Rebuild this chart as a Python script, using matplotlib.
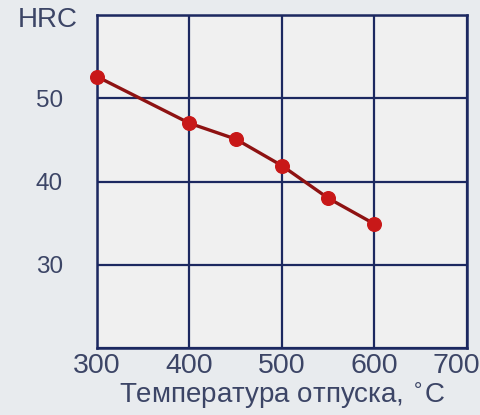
import matplotlib
matplotlib.use('Agg')
import matplotlib.pyplot as plt
import matplotlib.transforms as mtransforms

# tempering temperature vs hardness
temps = [300, 400, 450, 500, 550, 600]
hrc = [52.6, 47.0, 45.1, 41.9, 38.0, 34.9]

x_ticks = [300, 400, 500, 600, 700]
y_ticks = [20, 30, 40, 50, 60]
y_labels = ['', '30', '40', '50', '']

plt.rcParams['font.family'] = ['Liberation Sans', 'DejaVu Sans']

grid_col = '#1c2860'
text_col = '#3c4566'

fig = plt.figure(figsize=(4.81, 4.15), dpi=100)
fig.patch.set_facecolor('#e8ebee')
ax = fig.add_axes([0.2017, 0.1614, 0.769, 0.8024])
ax.set_facecolor('#f0f0f0')

ax.set_xlim(300, 700)
ax.set_ylim(20, 60)
ax.set_xticks(x_ticks)
ax.set_yticks(y_ticks)
ax.set_yticklabels(y_labels)
ax.grid(True, color=grid_col, linewidth=1.6)
ax.set_axisbelow(True)
for s in ax.spines.values():
    s.set_color(grid_col)
    s.set_linewidth(1.8)
ax.tick_params(length=0, colors=text_col)
ax.tick_params(axis='y', pad=24.5, labelsize=17.5)
ax.tick_params(axis='x', pad=3.5, labelsize=20.5)

# keep the last label inside the figure
lbl = ax.get_xticklabels()[-1]
lbl.set_transform(lbl.get_transform() + mtransforms.ScaledTranslation(-11 / 100, 0, fig.dpi_scale_trans))

ax.plot(temps, hrc, color='#8e1212', linewidth=2.4, zorder=3, clip_on=False)
ax.plot(temps, hrc, 'o', color='#c81818', markersize=9.8, zorder=4, clip_on=False)

ax.set_xlabel('Температура отпуска, $^{\\circ}$C', fontsize=20, color=text_col, labelpad=1)
fig.text(48 / 481, 1 - 20 / 415, 'HRC', fontsize=20, color=text_col, ha='center', va='center')

fig.savefig('out.png', dpi=100, facecolor=fig.get_facecolor())
